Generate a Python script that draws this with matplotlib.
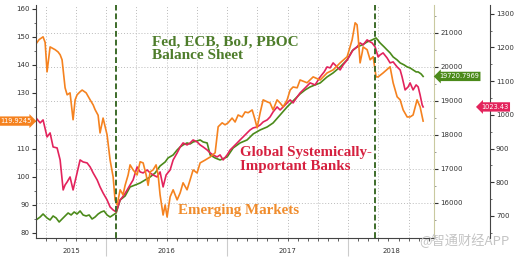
import numpy as np
import matplotlib
matplotlib.use("Agg")
import matplotlib.pyplot as plt
from matplotlib.ticker import FixedLocator, MultipleLocator, NullFormatter, FuncFormatter
import matplotlib.transforms as mtransforms

# ---- data (decimal years) ----
em_t = [2015.421, 2015.446, 2015.479, 2015.496, 2015.512, 2015.537, 2015.579, 2015.603, 2015.620, 2015.636,
        2015.661, 2015.678, 2015.702, 2015.727, 2015.744, 2015.760, 2015.785, 2015.802, 2015.835, 2015.868,
        2015.893, 2015.909, 2015.934, 2015.950, 2015.975, 2016.008, 2016.033, 2016.058, 2016.074, 2016.091,
        2016.116, 2016.140, 2016.157, 2016.182, 2016.198, 2016.223, 2016.256, 2016.281, 2016.306, 2016.331,
        2016.347, 2016.364, 2016.388, 2016.413, 2016.430, 2016.446, 2016.471, 2016.488, 2016.504, 2016.529,
        2016.554, 2016.587, 2016.612, 2016.636, 2016.669, 2016.694, 2016.719, 2016.752, 2016.777, 2016.818,
        2016.860, 2016.901, 2016.926, 2016.959, 2016.983, 2017.008, 2017.041, 2017.066, 2017.091, 2017.124,
        2017.149, 2017.174, 2017.207, 2017.231, 2017.248, 2017.273, 2017.298, 2017.331, 2017.355, 2017.380,
        2017.413, 2017.438, 2017.463, 2017.496, 2017.521, 2017.545, 2017.579, 2017.603, 2017.661, 2017.711,
        2017.769, 2017.826, 2017.876, 2017.934, 2017.992, 2018.033, 2018.058, 2018.074, 2018.083, 2018.099,
        2018.116, 2018.124, 2018.157, 2018.182, 2018.207, 2018.231, 2018.248, 2018.289, 2018.347, 2018.372,
        2018.405, 2018.430, 2018.455, 2018.488, 2018.512, 2018.537, 2018.570, 2018.595, 2018.620]
em_v = [147.5, 149.0, 150.0, 148.0, 137.5, 146.4, 145.4, 144.6, 143.6, 141.8,
        131.8, 129.3, 130.0, 120.4, 127.5, 129.3, 130.4, 131.0, 130.0, 127.5,
        125.7, 124.0, 122.0, 115.7, 121.0, 115.0, 106.0, 100.0, 91.8, 90.0,
        95.4, 93.6, 97.0, 100.7, 104.3, 102.5, 100.7, 105.4, 105.0, 100.7,
        97.0, 101.8, 102.5, 104.3, 100.7, 93.6, 86.4, 90.0, 85.7, 92.9,
        95.4, 91.8, 94.3, 97.9, 95.4, 98.9, 102.5, 101.4, 105.0, 106.0,
        107.1, 108.6, 117.9, 119.3, 118.6, 119.3, 121.0, 119.6, 122.1, 121.4,
        123.2, 122.9, 123.9, 120.4, 117.5, 122.9, 127.5, 126.8, 126.4, 123.9,
        127.5, 126.4, 125.0, 127.5, 131.0, 132.1, 131.8, 134.6, 133.6, 135.7,
        134.6, 137.1, 138.2, 140.7, 142.9, 148.9, 155.0, 154.3, 150.0, 140.7,
        144.3, 146.4, 145.4, 141.8, 142.9, 135.7, 135.7, 137.1, 139.3, 133.6,
        128.6, 127.5, 123.9, 121.4, 121.4, 122.1, 127.5, 125.0, 119.9245]

gsib_t = [2015.421, 2015.455, 2015.479, 2015.512, 2015.537, 2015.562, 2015.595, 2015.620, 2015.645, 2015.661,
          2015.678, 2015.702, 2015.727, 2015.760, 2015.785, 2015.810, 2015.843, 2015.868, 2015.893, 2015.926,
          2015.950, 2015.975, 2016.008, 2016.033, 2016.058, 2016.083, 2016.116, 2016.149, 2016.174, 2016.198,
          2016.223, 2016.256, 2016.281, 2016.306, 2016.339, 2016.364, 2016.388, 2016.421, 2016.446, 2016.471,
          2016.496, 2016.529, 2016.554, 2016.587, 2016.612, 2016.636, 2016.669, 2016.694, 2016.719, 2016.752,
          2016.777, 2016.802, 2016.835, 2016.860, 2016.884, 2016.917, 2016.942, 2016.967, 2017.000, 2017.025,
          2017.050, 2017.083, 2017.107, 2017.132, 2017.165, 2017.190, 2017.215, 2017.248, 2017.273, 2017.298,
          2017.331, 2017.355, 2017.380, 2017.413, 2017.438, 2017.463, 2017.496, 2017.521, 2017.545, 2017.579,
          2017.603, 2017.645, 2017.686, 2017.727, 2017.769, 2017.802, 2017.826, 2017.851, 2017.876, 2017.909,
          2017.934, 2017.959, 2017.992, 2018.017, 2018.041, 2018.074, 2018.099, 2018.124, 2018.157, 2018.182,
          2018.198, 2018.223, 2018.248, 2018.264, 2018.289, 2018.322, 2018.347, 2018.372, 2018.405, 2018.430,
          2018.446, 2018.471, 2018.496, 2018.512, 2018.537, 2018.562, 2018.579, 2018.595, 2018.612, 2018.620]
gsib_v = [990.8, 976.0, 984.9, 934.4, 946.3, 904.7, 901.8, 866.2, 777.2, 792.0,
          800.9, 815.7, 777.2, 827.6, 866.2, 860.2, 857.3, 845.4, 827.6, 806.8,
          786.1, 768.2, 747.5, 726.7, 717.8, 711.9, 747.5, 762.3, 777.2, 792.0,
          806.8, 845.4, 830.6, 827.6, 836.5, 827.6, 821.7, 815.7, 830.6, 786.1,
          821.7, 836.5, 866.2, 887.0, 904.7, 916.6, 910.7, 916.6, 925.5, 919.6,
          910.7, 904.7, 895.8, 887.0, 881.0, 875.1, 881.0, 866.2, 881.0, 895.8,
          904.7, 916.6, 925.5, 934.4, 946.3, 955.2, 961.1, 964.1, 970.0, 978.9,
          984.9, 993.8, 1008.6, 1023.4, 1014.5, 1023.4, 1035.3, 1044.2, 1035.3, 1053.1,
          1065.0, 1079.8, 1094.7, 1088.7, 1112.5, 1127.3, 1142.1, 1139.2, 1154.0, 1142.1,
          1133.2, 1148.1, 1162.9, 1177.7, 1192.6, 1201.5, 1213.4, 1207.4, 1222.3, 1216.3,
          1213.4, 1201.5, 1171.8, 1177.7, 1183.7, 1168.8, 1154.0, 1157.0, 1142.1, 1133.2,
          1112.5, 1073.9, 1082.8, 1094.7, 1073.9, 1088.7, 1082.8, 1059.0, 1029.4, 1023.43]

cb_t = [2015.421, 2015.455, 2015.479, 2015.512, 2015.537, 2015.562, 2015.587, 2015.612, 2015.636, 2015.661,
        2015.686, 2015.711, 2015.736, 2015.760, 2015.785, 2015.810, 2015.835, 2015.860, 2015.884, 2015.909,
        2015.934, 2015.959, 2015.983, 2016.008, 2016.033, 2016.058, 2016.083, 2016.116, 2016.157, 2016.198,
        2016.240, 2016.281, 2016.322, 2016.364, 2016.405, 2016.446, 2016.488, 2016.512, 2016.554, 2016.587,
        2016.612, 2016.636, 2016.669, 2016.694, 2016.719, 2016.752, 2016.777, 2016.802, 2016.835, 2016.860,
        2016.901, 2016.942, 2017.000, 2017.050, 2017.107, 2017.165, 2017.215, 2017.273, 2017.331, 2017.380,
        2017.438, 2017.496, 2017.545, 2017.603, 2017.645, 2017.686, 2017.727, 2017.769, 2017.826, 2017.876,
        2017.934, 2017.992, 2018.033, 2018.074, 2018.116, 2018.157, 2018.198, 2018.231, 2018.264, 2018.298,
        2018.322, 2018.347, 2018.372, 2018.405, 2018.430, 2018.463, 2018.488, 2018.512, 2018.537, 2018.562,
        2018.579, 2018.603, 2018.620]
cb_v = [15500, 15588, 15676, 15559, 15500, 15618, 15559, 15441, 15529, 15618,
        15706, 15647, 15735, 15676, 15765, 15647, 15618, 15647, 15529, 15588,
        15676, 15735, 15765, 15647, 15588, 15647, 15706, 16088, 16206, 16471,
        16529, 16588, 16676, 16765, 16882, 17088, 17206, 17324, 17412, 17559,
        17647, 17706, 17765, 17735, 17794, 17824, 17853, 17794, 17765, 17412,
        17324, 17265, 17353, 17618, 17765, 17853, 18029, 18147, 18235, 18353,
        18588, 18824, 19000, 19206, 19324, 19412, 19471, 19529, 19706, 19824,
        20000, 20206, 20471, 20588, 20647, 20735, 20794, 20853, 20706, 20588,
        20500, 20412, 20294, 20206, 20118, 20059, 20000, 19971, 19912, 19853,
        19853, 19794, 19720.7969]

event_t = [2016.083, 2018.223]          # dashed markers
year_labels = ["2015", "2016", "2017", "2018"]
year_label_t = [2015.71, 2016.5, 2017.5, 2018.355]
cb_ticks = [16000, 17000, 18000, 19000, 20000, 21000]

C_EM = "#f5821f"
C_GSIB = "#e3235c"
C_CB = "#4b8a1a"
SERIF = ["Liberation Serif", "DejaVu Serif"]

fig = plt.figure(figsize=(5.15, 2.57), dpi=100)
ax = fig.add_axes([0.070, 0.074, 0.773, 0.907])
ax_g = ax.twinx()
ax_p = ax.twinx()
ax_p.spines["right"].set_position(("outward", 40))

# draw order: green (with grid) -> pink -> orange
ax_g.set_zorder(1)
ax_p.set_zorder(2)
ax.set_zorder(3)
for a in (ax, ax_p, ax_g):
    a.patch.set_visible(False)

ax_g.plot(cb_t, cb_v, color=C_CB, lw=1.2)
ax_p.plot(gsib_t, gsib_v, color=C_GSIB, lw=1.2)
ax.plot(em_t, em_v, color=C_EM, lw=1.2)

for t in event_t:
    ax.axvline(t, color="#3d6b2a", lw=1.4, ls=(0, (3, 1.5)))

ax.set_xlim(2015.421, 2018.711)
ax.set_ylim(78.2, 161.4)
ax_g.set_ylim(14971, 21824)
ax_p.set_ylim(634.7, 1326.1)

# grid (from the balance-sheet axis + quarterly verticals)
ax_g.yaxis.set_major_locator(FixedLocator(cb_ticks))
ax_g.yaxis.set_minor_locator(MultipleLocator(500))
ax_g.grid(True, axis="y", color="#bbbbbb", ls=(0, (1, 2)), lw=0.7)
quarters = [2015.5, 2015.75, 2016.0, 2016.25, 2016.5, 2016.75, 2017.0, 2017.25,
            2017.5, 2017.75, 2018.0, 2018.25, 2018.5]
for q in quarters:
    ax_g.axvline(q, color="#bbbbbb", ls=(0, (1, 2)), lw=0.7, zorder=0)

# x axis: monthly minor ticks, long year separators, centred year labels
months = [2015 + k / 12 for k in range(6, 45)]
ax.xaxis.set_minor_locator(FixedLocator(months))
ax.xaxis.set_major_locator(FixedLocator([2016, 2017, 2018]))
ax.xaxis.set_major_formatter(NullFormatter())
ax.tick_params(axis="x", which="minor", length=2.5, width=0.6, color="#444444")
ax.tick_params(axis="x", which="major", length=13, width=0.8, color="#cccccc")
for lab, t in zip(year_labels, year_label_t):
    ax.text(t, -0.045, lab, transform=ax.get_xaxis_transform(), ha="center", va="top",
            fontsize=5, color="#333333")

# left axis (120 is hidden behind the last-value tag)
ax.yaxis.set_major_locator(MultipleLocator(10))
ax.yaxis.set_minor_locator(MultipleLocator(5))
ax.yaxis.set_major_formatter(FuncFormatter(lambda v, p: "" if abs(v - 120) < 1e-6 else f"{v:.0f}"))
ax.tick_params(axis="y", which="major", labelsize=5, length=3, width=0.8, colors="#333333", pad=1.5)
ax.tick_params(axis="y", which="minor", length=1.5, width=0.6, color="#555555")
ax_g.tick_params(axis="y", which="major", labelsize=5, length=3, width=0.8, colors="#333333", pad=1.5)
ax_g.tick_params(axis="y", which="minor", length=1.5, width=0.6, color="#888888")
ax_p.yaxis.set_major_locator(MultipleLocator(100))
ax_p.yaxis.set_minor_locator(MultipleLocator(50))
ax_p.tick_params(axis="y", which="major", labelsize=5, length=3, width=0.8, colors="#333333", pad=1.5)
ax_p.tick_params(axis="y", which="minor", length=1.5, width=0.6, color="#555555")

for a in (ax, ax_g, ax_p):
    a.spines["top"].set_visible(False)
ax.spines["left"].set_color("#444444")
ax.spines["bottom"].set_color("#444444")
ax.spines["right"].set_visible(False)
ax_g.spines["right"].set_color("#c9c9a0")
ax_g.spines["left"].set_visible(False)
ax_g.spines["bottom"].set_visible(False)
ax_p.spines["right"].set_color("#444444")
ax_p.spines["left"].set_visible(False)
ax_p.spines["bottom"].set_visible(False)

# last-value tags
ax.text(-0.012, em_v[-1], f"{em_v[-1]:.4f}", transform=mtransforms.blended_transform_factory(ax.transAxes, ax.transData),
        ha="right", va="center", fontsize=4.8, color="white",
        bbox=dict(boxstyle="rarrow,pad=0.25", fc=C_EM, ec="none"))
ax_g.text(1.012, cb_v[-1], f"{cb_v[-1]:.4f}", transform=mtransforms.blended_transform_factory(ax_g.transAxes, ax_g.transData),
          ha="left", va="center", fontsize=4.8, color="white",
          bbox=dict(boxstyle="larrow,pad=0.25", fc=C_CB, ec="none"))
ax_p.text(1.118, gsib_v[-1], f"{gsib_v[-1]:.2f}", transform=mtransforms.blended_transform_factory(ax_p.transAxes, ax_p.transData),
          ha="left", va="center", fontsize=4.8, color="white",
          bbox=dict(boxstyle="larrow,pad=0.25", fc=C_GSIB, ec="none"))

# series names
ax.text(2016.380, 150.5, "Fed, ECB, BoJ, PBOC\nBalance Sheet", family=SERIF, fontweight="bold",
        fontsize=11, color="#4e7d2b", va="top", ha="left", linespacing=1.05)
ax.text(2017.107, 111.0, "Global Systemically-\nImportant Banks", family=SERIF, fontweight="bold",
        fontsize=10.8, color="#d6203f", va="top", ha="left", linespacing=1.05)
ax.text(2016.595, 90.5, "Emerging Markets", family=SERIF, fontweight="bold",
        fontsize=10.8, color="#f08c2c", va="top", ha="left")

fig.text(0.99, 0.035, "@智通财经APP", ha="right", va="bottom", fontsize=9.5, color="#c4c4c4",
         family=["Noto Sans CJK SC", "DejaVu Sans"])

fig.savefig("out.png", dpi=100)
plt.close(fig)
